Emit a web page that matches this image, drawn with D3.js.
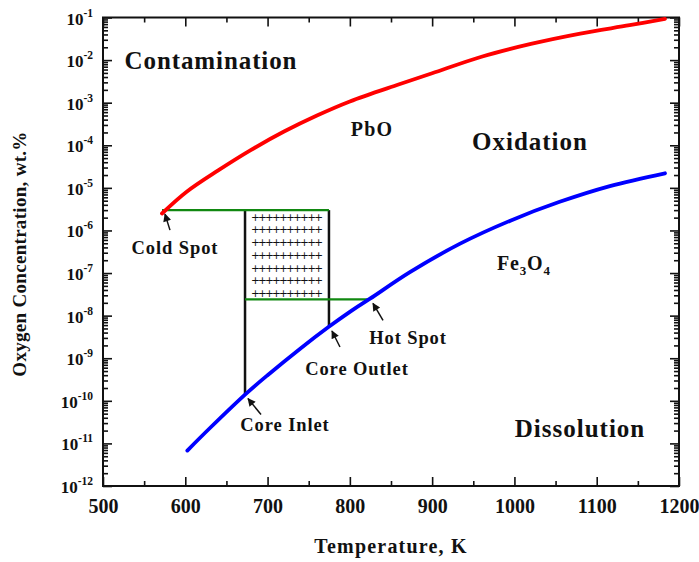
<!DOCTYPE html>
<html><head><meta charset="utf-8">
<script src="https://cdn.jsdelivr.net/npm/d3@7"></script>
<style>
html,body{margin:0;padding:0;background:#fff;}
svg text{font-family:"Liberation Serif","Times New Roman",serif;font-weight:bold;fill:#111;}
</style></head>
<body><svg id="chart" width="699" height="562"></svg>
<script>
// ---- data ----
const pboTemp = [571.7, 601.7, 640, 680, 720, 760, 800, 860, 900, 960, 1020, 1080, 1140, 1183];
const pboConc = [2.5e-6, 8.1e-6, 2.57e-5, 7.8e-5, 2.1e-4, 5.0e-4, 1.07e-3, 2.7e-3, 4.9e-3, 1.2e-2, 2.4e-2, 4.2e-2, 6.6e-2, 9.3e-2];
const fe3o4Temp = [602.5, 630, 672.6, 700, 740, 774, 800, 824.5, 873, 934, 995, 1055, 1116, 1183];
const fe3o4Conc = [6.8e-12, 2.3e-11, 1.4e-10, 4.0e-10, 1.7e-9, 5.4e-9, 1.23e-8, 2.5e-8, 1.05e-7, 4.9e-7, 1.7e-6, 4.7e-6, 1.1e-5, 2.2e-5];
// operating window
const greenUpper = [[571.7, 3.0e-6], [774.6, 3.0e-6]];
const greenLower = [[672.6, 2.4e-8], [824.5, 2.4e-8]];
const coreInletLine = [[672.6, 3.0e-6], [672.6, 1.4e-10]];
const coreOutletLine = [[774.6, 3.0e-6], [774.6, 5.4e-9]];
const xTicks = [500, 600, 700, 800, 900, 1000, 1100, 1200];
const xMinorTicks = [550, 650, 750, 850, 950, 1050, 1150];
const yExponents = [-1, -2, -3, -4, -5, -6, -7, -8, -9, -10, -11, -12];
const regionLabels = ["Contamination", "PbO", "Oxidation", "Dissolution"];
const pointLabels = ["Cold Spot", "Hot Spot", "Core Outlet", "Core Inlet"];

// ---- layout ----
const L = 103, R = 679, T = 17.5, B = 486;
const svg = d3.select("#chart");
const x = d3.scaleLinear().domain([500, 1200]).range([L, R]);
const y = d3.scaleLog().domain([1e-12, 1e-1]).range([B, T]);

const yMinor = [];
for (let e = -12; e < -1; e++) for (let k = 2; k <= 9; k++) yMinor.push(k * Math.pow(10, e));
const yMajor = yExponents.map(e => Math.pow(10, e));

function styleAxis(g) {
  g.select(".domain").remove();
  g.selectAll("line").attr("stroke", "#111").attr("stroke-width", 1.6);
}
svg.append("g").attr("transform", `translate(0,${B})`)
  .call(d3.axisBottom(x).tickValues(xTicks).tickFormat(d3.format("d")).tickSizeInner(-9).tickSizeOuter(0).tickPadding(13))
  .call(styleAxis)
  .call(g => g.selectAll("text").attr("font-size", 20).style("font-family", "'Liberation Serif',serif").style("font-weight", "bold").attr("fill", "#111"));
svg.append("g").attr("transform", `translate(0,${B})`)
  .call(d3.axisBottom(x).tickValues(xMinorTicks).tickFormat("").tickSizeInner(-5).tickSizeOuter(0)).call(styleAxis);
svg.append("g").attr("transform", `translate(0,${T})`)
  .call(d3.axisTop(x).tickValues(xTicks).tickFormat("").tickSizeInner(-9).tickSizeOuter(0)).call(styleAxis);
svg.append("g").attr("transform", `translate(0,${T})`)
  .call(d3.axisTop(x).tickValues(xMinorTicks).tickFormat("").tickSizeInner(-5).tickSizeOuter(0)).call(styleAxis);
svg.append("g").attr("transform", `translate(${L},0)`)
  .call(d3.axisLeft(y).tickValues(yMajor).tickFormat("").tickSizeInner(-9).tickSizeOuter(0)).call(styleAxis);
svg.append("g").attr("transform", `translate(${L},0)`)
  .call(d3.axisLeft(y).tickValues(yMinor).tickFormat("").tickSizeInner(-5).tickSizeOuter(0)).call(styleAxis);
svg.append("g").attr("transform", `translate(${R},0)`)
  .call(d3.axisRight(y).tickValues(yMajor).tickFormat("").tickSizeInner(-9).tickSizeOuter(0)).call(styleAxis);
svg.append("g").attr("transform", `translate(${R},0)`)
  .call(d3.axisRight(y).tickValues(yMinor).tickFormat("").tickSizeInner(-5).tickSizeOuter(0)).call(styleAxis);

const yl = svg.append("g");
yExponents.forEach(e => {
  const t = yl.append("text").attr("x", L - 10).attr("y", y(Math.pow(10, e)) + 7)
    .attr("text-anchor", "end").attr("font-size", 17);
  t.append("tspan").text("10");
  t.append("tspan").attr("dy", -8).attr("font-size", 11.5).text(String(e));
});

svg.append("rect").attr("x", L).attr("y", T).attr("width", R - L).attr("height", B - T)
  .attr("fill", "none").attr("stroke", "#111").attr("stroke-width", 2);

svg.append("text").attr("x", 391).attr("y", 553).attr("text-anchor", "middle").attr("font-size", 20)
  .attr("letter-spacing", 1.2).text("Temperature, K");
svg.append("text").attr("transform", `translate(26,254) rotate(-90)`).attr("text-anchor", "middle").attr("font-size", 19)
  .attr("letter-spacing", 0.3).text("Oxygen Concentration, wt.%");

const seg = d3.line().x(d => x(d[0])).y(d => y(d[1]));
svg.append("path").attr("d", seg(coreInletLine)).attr("stroke", "#111").attr("stroke-width", 2.5).attr("fill", "none");
svg.append("path").attr("d", seg(coreOutletLine)).attr("stroke", "#111").attr("stroke-width", 2.5).attr("fill", "none");
svg.append("path").attr("d", seg(greenUpper)).attr("stroke", "#118811").attr("stroke-width", 2.2).attr("fill", "none");
svg.append("path").attr("d", seg(greenLower)).attr("stroke", "#118811").attr("stroke-width", 2.2).attr("fill", "none");

const bx0 = x(coreInletLine[0][0]), bx1 = x(coreOutletLine[0][0]);
const by0 = y(greenUpper[0][1]), by1 = y(greenLower[0][1]);
const nRows = 7;
for (let i = 0; i < nRows; i++) {
  const yy = by0 + (by1 - by0) * (i + 0.5) / nRows + 4;
  svg.append("text").attr("x", (bx0 + bx1) / 2).attr("y", yy).attr("text-anchor", "middle")
    .attr("font-size", 10.5).style("font-family", "'DejaVu Sans',sans-serif").style("font-weight", "normal")
    .attr("textLength", (bx1 - bx0) - 12).attr("lengthAdjust", "spacing").text("++++++++++");
}

const line = d3.line().x(d => x(d[0])).y(d => y(d[1])).curve(d3.curveCatmullRom);
svg.append("path").attr("d", line(pboTemp.map((t, i) => [t, pboConc[i]])))
  .attr("stroke", "#ff0000").attr("stroke-width", 3.8).attr("fill", "none").attr("stroke-linecap", "round");
svg.append("path").attr("d", line(fe3o4Temp.map((t, i) => [t, fe3o4Conc[i]])))
  .attr("stroke", "#0000ff").attr("stroke-width", 3.8).attr("fill", "none").attr("stroke-linecap", "round");

svg.append("text").attr("x", 211).attr("y", 69).attr("text-anchor", "middle").attr("font-size", 25).attr("letter-spacing", 0.9).text(regionLabels[0]);
svg.append("text").attr("x", 372).attr("y", 136).attr("text-anchor", "middle").attr("font-size", 20).attr("letter-spacing", 1.2).text(regionLabels[1]);
svg.append("text").attr("x", 530).attr("y", 150).attr("text-anchor", "middle").attr("font-size", 25).attr("letter-spacing", 1).text(regionLabels[2]);
svg.append("text").attr("x", 580).attr("y", 437).attr("text-anchor", "middle").attr("font-size", 25).attr("letter-spacing", 1).text(regionLabels[3]);
const fe = svg.append("text").attr("x", 497).attr("y", 270).attr("font-size", 20).attr("letter-spacing", 0.8);
fe.append("tspan").text("Fe");
fe.append("tspan").attr("dy", 5).attr("font-size", 13).text("3");
fe.append("tspan").attr("dy", -5).text("O");
fe.append("tspan").attr("dy", 5).attr("font-size", 13).text("4");

svg.append("defs").append("marker").attr("id", "ah").attr("viewBox", "0 0 10 10").attr("refX", 9).attr("refY", 5)
  .attr("markerWidth", 10).attr("markerHeight", 8).attr("markerUnits", "userSpaceOnUse").attr("orient", "auto")
  .append("path").attr("d", "M0,0 L10,5 L0,10 z").attr("fill", "#111");
const arrows = [
  {tip: greenUpper[0], dx: 5, dy: 16, label: pointLabels[0], lx: 175, ly: 254},
  {tip: greenLower[1], dx: 10, dy: 17, label: pointLabels[1], lx: 408, ly: 344},
  {tip: coreOutletLine[1], dx: 8, dy: 16, label: pointLabels[2], lx: 357, ly: 375},
  {tip: coreInletLine[1], dx: 13, dy: 16, label: pointLabels[3], lx: 285, ly: 431}
];
arrows.forEach(a => {
  const tx = x(a.tip[0]) + 3, ty = y(a.tip[1]) + 4;
  svg.append("line").attr("x1", tx + a.dx).attr("y1", ty + a.dy).attr("x2", tx).attr("y2", ty)
    .attr("stroke", "#111").attr("stroke-width", 1.5).attr("marker-end", "url(#ah)");
  svg.append("text").attr("x", a.lx).attr("y", a.ly).attr("text-anchor", "middle").attr("font-size", 18.5)
    .attr("letter-spacing", 0.9).text(a.label);
});
</script></body></html>
